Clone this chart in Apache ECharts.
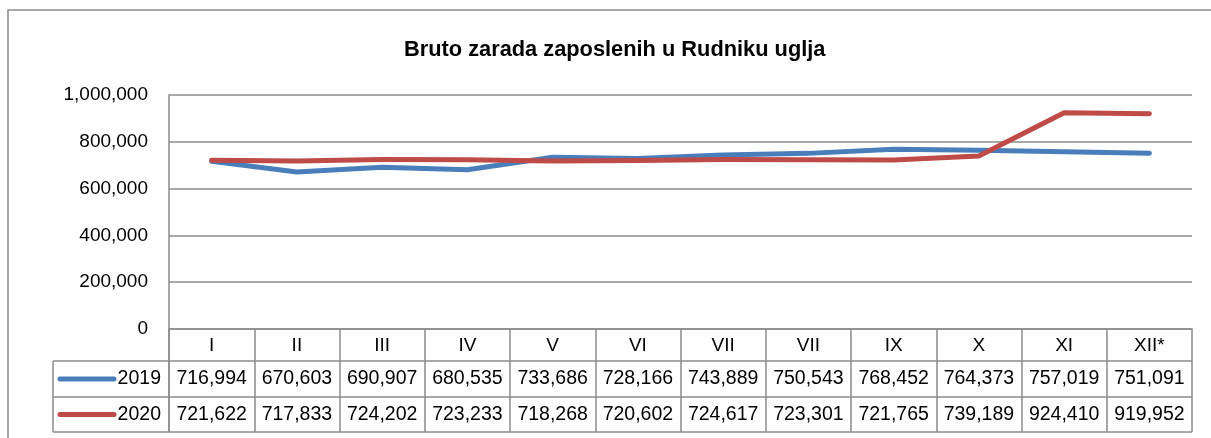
<!DOCTYPE html>
<html>
<head>
	<meta charset="utf-8">
	<title>Bruto zarada zaposlenih u Rudniku uglja</title>
	<script src="https://cdn.jsdelivr.net/npm/echarts@6/dist/echarts.min.js"></script>
	<style>
		html, body { margin: 0; padding: 0; background: #fff; }
		#main { width: 1211px; height: 438px; }
	</style>
</head>
<body>
<div id="main"></div>
<script type="text/javascript">
// podaci
var months = ['I', 'II', 'III', 'IV', 'V', 'VI', 'VII', 'VII', 'IX', 'X', 'XI', 'XII*'];
var years = ['2019', '2020'];
var data2019 = [716994, 670603, 690907, 680535, 733686, 728166, 743889, 750543, 768452, 764373, 757019, 751091];
var data2020 = [721622, 717833, 724202, 723233, 718268, 720602, 724617, 723301, 721765, 739189, 924410, 919952];
var colors = ['#4a7ebb', '#be4b48'];

var font = 'Liberation Sans';
var gridColor = '#8c8c8c';
var fmt = function (v) { return Number(v).toLocaleString('en-US'); };

var myChart = echarts.init(document.getElementById('main'));

var gridLeft = 169, gridRight = 1192, gridTop = 95, gridBottom = 329;
var rowY = [329, 361, 397, 432]; // header, 2019, 2020 row edges

myChart.setOption({
	animation: false,
	title: {
		text: 'Bruto zarada zaposlenih u Rudniku uglja',
		left: 399,
		top: 34,
		textStyle: { fontFamily: font, fontSize: 21.8, fontWeight: 'bold', color: '#000' }
	},
	grid: { left: gridLeft, right: 1211 - gridRight, top: gridTop, bottom: 438 - gridBottom },
	xAxis: {
		type: 'category',
		data: months,
		boundaryGap: true,
		axisLine: { lineStyle: { color: gridColor, width: 1.5 } },
		axisTick: { show: true, length: rowY[3] - rowY[0], lineStyle: { color: gridColor, width: 1.5 } },
		axisLabel: { margin: 7, fontFamily: font, fontSize: 19, color: '#000', interval: 0 }
	},
	yAxis: {
		type: 'value',
		min: 0, max: 1000000, interval: 200000,
		axisLine: { show: true, lineStyle: { color: gridColor, width: 1.5 } },
		axisTick: { show: false },
		splitLine: { lineStyle: { color: gridColor, width: 1.5 } },
		axisLabel: { margin: 21, fontFamily: font, fontSize: 19, color: '#000', formatter: fmt }
	},
	series: [
		{ name: years[0], type: 'line', data: data2019, symbol: 'none',
		  lineStyle: { color: colors[0], width: 5, cap: 'round', join: 'round' }, z: 2 },
		{ name: years[1], type: 'line', data: data2020, symbol: 'none',
		  lineStyle: { color: colors[1], width: 5, cap: 'round', join: 'round' }, z: 3 }
	]
});

// tabela s podacima ispod grafikona
var tableLeft = 53;
var g = [];
// okvir cijelog grafikona
g.push({ type: 'rect', shape: { x: 8, y: 10, width: 1400, height: 600 },
	style: { fill: null, stroke: gridColor, lineWidth: 1.5 }, silent: true, z: -1 });
// horizontalne linije
[rowY[1], rowY[2], rowY[3]].forEach(function (y) {
	g.push({ type: 'line', shape: { x1: tableLeft, y1: y, x2: gridRight, y2: y },
		style: { stroke: gridColor, lineWidth: 1.5 }, silent: true });
});
g.push({ type: 'line', shape: { x1: tableLeft, y1: rowY[1], x2: tableLeft, y2: rowY[3] },
	style: { stroke: gridColor, lineWidth: 1.5 }, silent: true });
g.push({ type: 'line', shape: { x1: gridLeft, y1: rowY[0], x2: gridLeft, y2: rowY[3] },
	style: { stroke: gridColor, lineWidth: 1.5 }, silent: true });

[data2019, data2020].forEach(function (arr, r) {
	var cy = (rowY[r + 1] + rowY[r + 2]) / 2;
	// legenda
	g.push({ type: 'line', shape: { x1: 60, y1: cy, x2: 114, y2: cy },
		style: { stroke: colors[r], lineWidth: 5, lineCap: 'round' }, silent: true });
	g.push({ type: 'text', x: 161, y: cy, style: { text: years[r], fontFamily: font, fontSize: 19.5,
		fill: '#000', align: 'right', verticalAlign: 'middle' }, silent: true });
	arr.forEach(function (v, i) {
		var cx = myChart.convertToPixel({ xAxisIndex: 0 }, i);
		g.push({ type: 'text', x: cx, y: cy, style: { text: fmt(v), fontFamily: font, fontSize: 19.5,
			fill: '#000', align: 'center', verticalAlign: 'middle' }, silent: true });
	});
});

myChart.setOption({ graphic: g });
</script>
</body>
</html>
